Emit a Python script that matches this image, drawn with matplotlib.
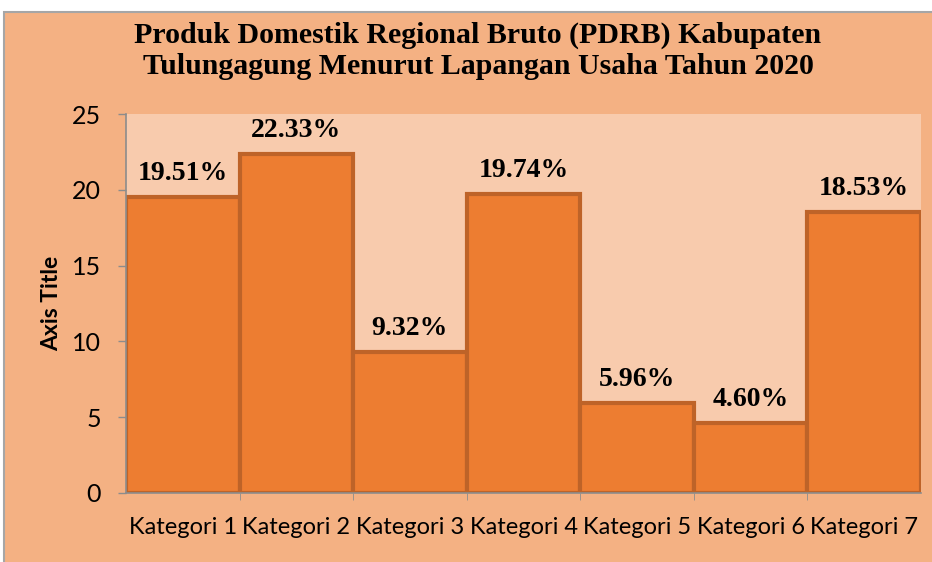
import matplotlib
matplotlib.use("Agg")
import matplotlib.pyplot as plt
from matplotlib.patches import Rectangle

categories = ["Kategori 1", "Kategori 2", "Kategori 3", "Kategori 4",
              "Kategori 5", "Kategori 6", "Kategori 7"]
values = [19.51, 22.33, 9.32, 19.74, 5.96, 4.60, 18.53]
labels = ["19.51%", "22.33%", "9.32%", "19.74%", "5.96%", "4.60%", "18.53%"]
yticks = [0, 5, 10, 15, 20, 25]

outer_bg = "#F4B183"
plot_bg = "#F8CBAD"
bar_color = "#ED7D31"
edge_color = "#BE6328"

fig = plt.figure(figsize=(9.32, 5.62), dpi=100)
fig.patch.set_facecolor("white")
# chart area with border
fig.patches.append(Rectangle((4/932, -0.01), 1, 1.01 - 12/562, transform=fig.transFigure,
                             facecolor=outer_bg, edgecolor="#A6A6A6", linewidth=1.5, zorder=-10))

ax = fig.add_axes([126/932, 69/562, 795/932, 379/562], zorder=2)
ax.set_facecolor(plot_bg)
x = list(range(len(categories)))
bars = ax.bar(x, values, width=1.0, color=bar_color, edgecolor=edge_color, linewidth=3, zorder=2)
ax.set_xlim(-0.5, len(categories) - 0.5)
ax.set_ylim(0, 25)
ax.set_yticks(yticks)
ax.set_yticklabels([str(t) for t in yticks], fontsize=18, family="Lato")
ax.set_xticks(x)
ax.set_xticklabels(categories, fontsize=17, family="Lato")
ax.tick_params(axis="x", length=0, pad=17)
ax.tick_params(axis="y", length=6, color="#8C8C8C", width=1, pad=12)
ax.set_xticks([i + 0.5 for i in x[:-1]], minor=True)
ax.tick_params(axis="x", which="minor", length=5, color="#8C8C8C", direction="out")
for s in ["top", "right"]:
    ax.spines[s].set_visible(False)
for s in ["left", "bottom"]:
    ax.spines[s].set_color("#8C8C8C")
    ax.spines[s].set_linewidth(1.2)

for xi, v, lab in zip(x, values, labels):
    ax.annotate(lab, (xi, v), xytext=(0, 8), textcoords="offset points",
                ha="center", va="bottom", fontsize=20, fontweight="bold",
                family="Liberation Serif", zorder=3)

ax.set_ylabel("Axis Title", fontsize=16.5, fontweight="bold", family="Lato")
ax.yaxis.set_label_coords((52 - 126) / 795, (493 - 303.5) / 379)
ax.yaxis.label.set_verticalalignment("center")

fig.text(478/932, 1 - 51/562, "Produk Domestik Regional Bruto (PDRB) Kabupaten\nTulungagung Menurut Lapangan Usaha Tahun 2020",
         ha="center", va="center", fontsize=21.5, fontweight="bold", family="Liberation Serif",
         linespacing=1.2)

fig.savefig("out.png", dpi=100, facecolor=fig.get_facecolor())
